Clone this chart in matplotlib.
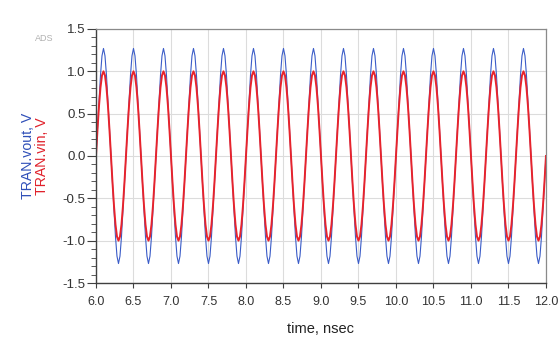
import numpy as np
import matplotlib.pyplot as plt
from matplotlib.ticker import MultipleLocator

############################################
### Transient waveforms, one period sampled every 0.02 ns (period 0.4 ns)
t_start   = 6.0      ## nsec
t_step    = 0.02     ## nsec
n_periods = 15

vin_period = [0.000, 0.309, 0.588, 0.809, 0.951, 1.000, 0.951, 0.809, 0.588, 0.309,
              0.000, -0.309, -0.588, -0.809, -0.951, -1.000, -0.951, -0.809, -0.588, -0.309]
vout_period = [0.000, 0.317, 0.643, 0.952, 1.183, 1.270, 1.183, 0.952, 0.643, 0.317,
               0.000, -0.317, -0.643, -0.952, -1.183, -1.270, -1.183, -0.952, -0.643, -0.317]

x_ticks = [6.0, 6.5, 7.0, 7.5, 8.0, 8.5, 9.0, 9.5, 10.0, 10.5, 11.0, 11.5, 12.0]
y_ticks = [-1.5, -1.0, -0.5, 0.0, 0.5, 1.0, 1.5]
############################################

vin  = np.append(np.tile(vin_period, n_periods), vin_period[0])
vout = np.append(np.tile(vout_period, n_periods), vout_period[0])
t = t_start + t_step*np.arange(len(vin))

plt.rcParams['font.family'] = ['Liberation Sans', 'DejaVu Sans']

fig = plt.figure(figsize=(5.59, 3.43), dpi=100)
ax = fig.add_axes([0.1717, 0.1749, 0.805, 0.7406])

ax.plot(t, vout, color="#3a5cc8", linewidth=0.8)
ax.plot(t, vin, color="#e8232c", linewidth=1.4)

ax.set_xlim(6.0, 12.0)
ax.set_ylim(-1.5, 1.5)
ax.set_xticks(x_ticks)
ax.set_xticklabels(["%.1f" % v for v in x_ticks])
ax.set_yticks(y_ticks)
ax.set_yticklabels(["%.1f" % v for v in y_ticks])
ax.yaxis.set_minor_locator(MultipleLocator(0.1))
ax.grid(True, which="major", color="#dcdcdc", linewidth=0.8)
ax.tick_params(axis="x", which="major", length=3.6, width=0.8, color="#404040",
               labelsize=9, labelcolor="#333333", pad=6)
ax.tick_params(axis="y", which="major", length=6.5, width=0.8, color="#404040",
               labelsize=9.5, labelcolor="#333333", pad=1)
ax.tick_params(axis="y", which="minor", length=3.6, width=0.6, color="#404040")

for side in ["left", "bottom"]:
    ax.spines[side].set_color("#404040")
    ax.spines[side].set_linewidth(1.0)
for side in ["top", "right"]:
    ax.spines[side].set_color("#8a8a8a")
    ax.spines[side].set_linewidth(0.9)

ax.set_xlabel("time, nsec", fontsize=10.5, color="#222222", labelpad=10)

fig.text(0.058, 0.545, "TRAN.vout, V", rotation=90, rotation_mode="anchor",
         color="#2f4fb8", fontsize=10.2, ha="center", va="baseline")
fig.text(0.083, 0.545, "TRAN.vin, V", rotation=90, rotation_mode="anchor",
         color="#e0202a", fontsize=10.2, ha="center", va="baseline")
fig.text(0.08, 0.889, "ADS", color="#b0b0b0", fontsize=6.5, ha="center", va="center")

plt.savefig("out.png", dpi=100)
